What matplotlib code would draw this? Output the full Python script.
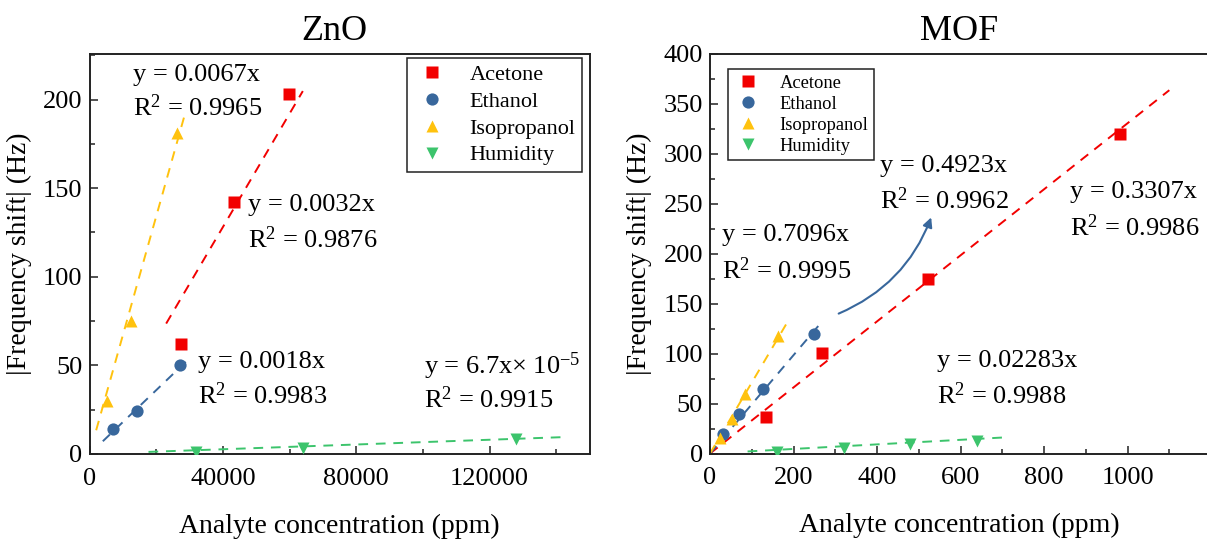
import numpy as np
import matplotlib
matplotlib.use('Agg')
import matplotlib.pyplot as plt
from matplotlib.ticker import MultipleLocator

plt.rcParams['font.family'] = ['Liberation Serif', 'DejaVu Serif']
plt.rcParams['mathtext.fontset'] = 'custom'
plt.rcParams['mathtext.rm'] = 'Liberation Serif'
plt.rcParams['mathtext.it'] = 'Liberation Serif:italic'

gases = ['Acetone', 'Ethanol', 'Isopropanol', 'Humidity']
colors = ['#f20000', '#38679c', '#ffc20e', '#3cc46c']
markers = ['s', 'o', '^', 'v']

# ZnO sensor data (ppm, Hz)
zno_x = [[27500, 43300, 59800],
         [6900, 14200, 27000],
         [5200, 12400, 26200],
         [32000, 64000, 127800]]
zno_y = [[62, 142, 203],
         [14, 24, 50],
         [30, 75, 181],
         [1, 3.5, 8.5]]
zno_slope = [0.0032, 0.0018, 0.0067, 6.7e-5]
zno_fit_range = [(23000, 64000), (4000, 29000), (2000, 28700), (17700, 142200)]

# MOF sensor data (ppm, Hz)
mof_x = [[135, 268, 521, 983],
         [30, 70, 128, 249],
         [24, 52, 84, 164],
         [160, 320, 480, 640]]
mof_y = [[37, 101, 175, 320],
         [20, 40, 65, 120],
         [16, 35, 60, 118],
         [2, 6, 10, 13]]
mof_slope = [0.3307, 0.4923, 0.7096, 0.02283]
mof_fit_range = [(0, 1100), (0, 265), (0, 185), (90, 700)]

# fit labels: (x, y of first line, y of second line, eq, r2)
zno_labels = [(13100, 214, 195.5, 'y = 0.0067x', '0.9965'),
              (47600, 140.7, 121, 'y = 0.0032x', '0.9876'),
              (32600, 52, 32.8, 'y = 0.0018x', '0.9983'),
              (100400, 49.7, 30.5, 'y = 6.7x\u00d7 10$^{\\mathrm{-5}}$', '0.9915')]
mof_labels = [(28.7, 219, 183.3, 'y = 0.7096x', '0.9995'),
              (407, 288.2, 253.5, 'y = 0.4923x', '0.9962'),
              (862, 261.4, 226.1, 'y = 0.3307x', '0.9986'),
              (543, 92.8, 58.2, 'y = 0.02283x', '0.9988')]

fig = plt.figure(figsize=(12.07, 5.44), dpi=100)
ax1 = fig.add_axes([89.5 / 1207, 1 - 454 / 544, 500 / 1207, 400.5 / 544])
ax2 = fig.add_axes([710 / 1207, 1 - 453.5 / 544, 499 / 1207, 399.5 / 544])


def draw_panel(ax, xs, ys, slopes, ranges, labels):
    for i in range(4):
        x0, x1 = ranges[i]
        xf = np.array([x0, x1])
        ax.plot(xf, slopes[i] * xf, ls=(0, (5, 4)), lw=1.4, color=colors[i], zorder=2)
    for i in range(4):
        ax.plot(xs[i], ys[i], ls='none', marker=markers[i], ms=8.8, mec='none',
                color=colors[i], label=gases[i], zorder=3)
    for (tx, ty1, ty2, eq, r2) in labels:
        ax.text(tx, ty1, eq, fontsize=19, va='center', ha='left')
        ax.text(tx, ty2, 'R$^{\\mathrm{2}}$ = ' + r2, fontsize=19, va='center', ha='left')
    for sp in ax.spines.values():
        sp.set_linewidth(1.4)
        sp.set_color('#222222')
    ax.tick_params(which='both', direction='in', labelsize=19,
                   width=1.1, color='#222222')
    ax.tick_params(axis='x', pad=10)
    ax.tick_params(axis='y', pad=5)
    ax.tick_params(which='major', length=6)
    ax.tick_params(which='minor', length=3.5)
    ax.set_xlabel('Analyte concentration (ppm)', fontsize=20, labelpad=17)
    ax.set_ylabel('|Frequency shift| (Hz)', fontsize=20, labelpad=8)


draw_panel(ax1, zno_x, zno_y, zno_slope, zno_fit_range, zno_labels)
ax1.set_xlim(0, 150000)
ax1.set_ylim(0, 226)
ax1.xaxis.set_major_locator(MultipleLocator(40000))
ax1.xaxis.set_minor_locator(MultipleLocator(20000))
ax1.yaxis.set_major_locator(MultipleLocator(50))
ax1.yaxis.set_minor_locator(MultipleLocator(25))
ax1.set_title('ZnO', fontsize=26, pad=10, x=0.49)
leg1 = ax1.legend(loc='upper right', bbox_to_anchor=(0.985, 0.989), fontsize=16,
                  frameon=True, fancybox=False, edgecolor='#222222', framealpha=1,
                  handletextpad=0.9, borderpad=0.3, labelspacing=0.28,
                  handlelength=1.6, borderaxespad=0)
leg1.get_frame().set_linewidth(1.1)

draw_panel(ax2, mof_x, mof_y, mof_slope, mof_fit_range, mof_labels)
ax2.set_xlim(0, 1195)
ax2.set_ylim(0, 400)
ax2.xaxis.set_major_locator(MultipleLocator(200))
ax2.xaxis.set_minor_locator(MultipleLocator(100))
ax2.yaxis.set_major_locator(MultipleLocator(50))
ax2.yaxis.set_minor_locator(MultipleLocator(25))
ax2.set_title('MOF', fontsize=26, pad=10)
leg2 = ax2.legend(loc='upper left', bbox_to_anchor=(0.0353, 0.9625), fontsize=13.3,
                  frameon=True, fancybox=False, edgecolor='#222222', framealpha=1,
                  handletextpad=0.9, borderpad=0.3, labelspacing=0.22,
                  handlelength=1.6, borderaxespad=0)
leg2.get_frame().set_linewidth(1.1)

# curved arrow pointing to the ethanol fit label
ax2.annotate('', xy=(532, 239), xytext=(302, 139),
             arrowprops=dict(arrowstyle='-|>', color=colors[1], lw=1.5,
                             connectionstyle='arc3,rad=0.22', mutation_scale=14))

fig.savefig('out.png', dpi=100)
